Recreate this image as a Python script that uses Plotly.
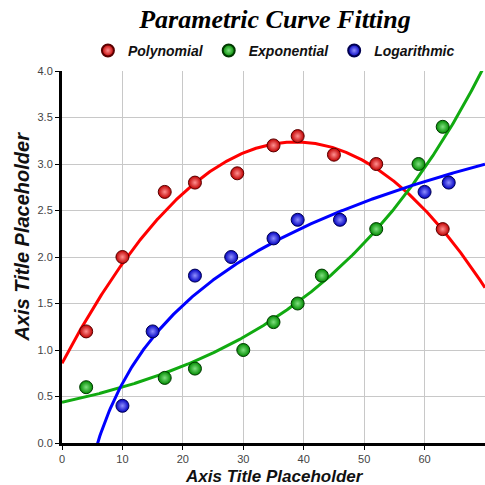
import numpy as np
import plotly.graph_objects as go

poly_x = [4, 10, 17, 22, 29, 35, 39, 45, 52, 63]
poly_y = [1.2, 2.0, 2.7, 2.8, 2.9, 3.2, 3.3, 3.1, 3.0, 2.3]
exp_x = [4, 17, 22, 30, 35, 39, 43, 52, 59, 63]
exp_y = [0.6, 0.7, 0.8, 1.0, 1.3, 1.5, 1.8, 2.3, 3.0, 3.4]
log_x = [10, 15, 22, 28, 35, 39, 46, 60, 64]
log_y = [0.4, 1.2, 1.8, 2.0, 2.2, 2.4, 2.4, 2.7, 2.8]

xs = np.linspace(0, 70, 400)
# polynomial fit (quadratic)
pc = np.polyfit(poly_x, poly_y, 2)
poly_fit = np.polyval(pc, xs)
# exponential fit y = a*exp(bx)
ec = np.polyfit(exp_x, np.log(exp_y), 1)
exp_fit = np.exp(ec[1]) * np.exp(ec[0] * xs)
# logarithmic fit y = a + b ln x
xs_log = np.linspace(0.5, 70, 400)
lc = np.polyfit(np.log(log_x), log_y, 1)
log_fit = lc[1] + lc[0] * np.log(xs_log)

series = [
    ("Polynomial", "#ff0000", "#ff9090", "#c00000", "#5a0000", poly_x, poly_y, xs, poly_fit),
    ("Exponential", "#11aa11", "#80e080", "#008a00", "#003800", exp_x, exp_y, xs, exp_fit),
    ("Logarithmic", "#0000ff", "#9090ff", "#0000c0", "#000050", log_x, log_y, xs_log, log_fit),
]

FONT = "Liberation Sans, Arial, sans-serif"

fig = go.Figure()
for name, col, light, mid, dark, px, py, fx, fy in series:
    fig.add_trace(go.Scatter(x=fx, y=fy, mode="lines", line=dict(color=col, width=3),
                             showlegend=False, hoverinfo="skip", cliponaxis=True))
for name, col, light, mid, dark, px, py, fx, fy in series:
    fig.add_trace(go.Scatter(x=px, y=py, mode="markers", name="<b><i>" + name + "</i></b>",
                             marker=dict(size=13, color=mid,
                                         gradient=dict(type="radial", color=light),
                                         line=dict(color=dark, width=1)),
                             cliponaxis=False))

fig.update_layout(
    width=485, height=485,
    margin=dict(l=62, r=0, t=71, b=42),
    plot_bgcolor="white", paper_bgcolor="white",
    title=dict(text="<b><i>Parametric Curve Fitting</i></b>",
               font=dict(family="Liberation Serif, Times New Roman, serif", size=26, color="black"),
               xref="container", x=0.567, xanchor="center",
               yref="container", y=0.961, yanchor="middle"),
    legend=dict(orientation="h", x=0.501, xanchor="center", y=1.054, yanchor="middle",
                font=dict(family=FONT, size=14, color="#111"),
                itemsizing="constant", traceorder="normal", itemwidth=30,
                bgcolor="rgba(0,0,0,0)"),
    xaxis=dict(range=[0, 70], dtick=10, showgrid=True, gridcolor="#c8c8c8", gridwidth=1,
               showline=True, linecolor="black", linewidth=3, ticks="outside", ticklen=4,
               tickcolor="black", zeroline=False, automargin=False,
               tickfont=dict(family=FONT, size=11, color="#444")),
    yaxis=dict(range=[0, 4], dtick=0.5, tickformat=".1f", showgrid=True, gridcolor="#c8c8c8",
               gridwidth=1, showline=True, linecolor="black", linewidth=3, ticks="outside",
               ticklen=4, tickcolor="black", zeroline=False, automargin=False,
               tickfont=dict(family=FONT, size=11, color="#444")),
    annotations=[
        dict(text="<b><i>Axis Title Placeholder</i></b>", xref="paper", yref="paper",
             x=0.5035, y=-0.089, xanchor="center", yanchor="middle", showarrow=False,
             font=dict(family=FONT, size=17, color="#111")),
        dict(text="<b><i>Axis Title Placeholder</i></b>", xref="paper", yref="paper",
             x=-0.0946, y=0.555, xanchor="center", yanchor="middle", showarrow=False,
             textangle=-90, font=dict(family=FONT, size=20, color="#111")),
    ],
)

fig.write_html("out.html", config={"displayModeBar": False},
               post_script="document.body.style.margin='0';document.body.style.overflow='hidden';")
